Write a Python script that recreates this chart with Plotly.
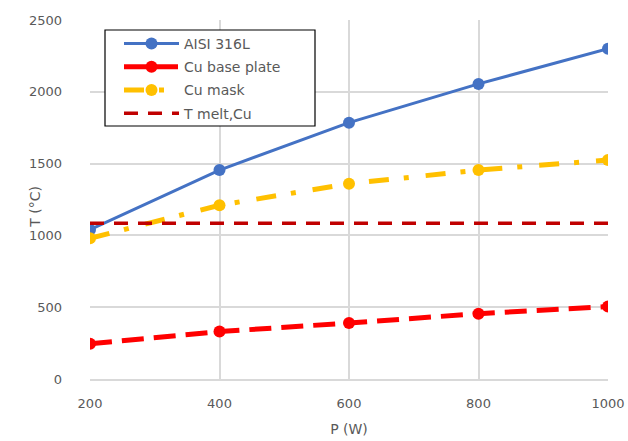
import plotly.graph_objects as go

power = [200, 400, 600, 800, 1000]
t_aisi = [1040, 1455, 1785, 2055, 2300]
t_base = [245, 330, 390, 455, 505]
t_mask = [980, 1210, 1360, 1455, 1525]
t_melt_cu = [1085, 1085, 1085, 1085, 1085]

font_family = "DejaVu Sans, Verdana, sans-serif"
gray = "#595959"

fig = go.Figure()
fig.add_trace(go.Scatter(
    x=power, y=t_aisi, name="AISI 316L", mode="lines+markers", legendgroup="a",
    line=dict(color="#4472C4", width=3),
    marker=dict(size=12, color="#4472C4"),
))
fig.add_trace(go.Scatter(
    x=power, y=t_base, name="Cu base plate", mode="lines+markers", legendgroup="b",
    line=dict(color="#FF0000", width=5, dash="22px,10px"),
    marker=dict(size=12, color="#FF0000"),
))
fig.add_trace(go.Scatter(
    x=power, y=t_mask, name="Cu mask", mode="lines+markers", legendgroup="c",
    line=dict(color="#FFC000", width=5, dash="20px,15px,5px,17px"),
    marker=dict(size=12, color="#FFC000"),
))
fig.add_trace(go.Scatter(
    x=power, y=t_melt_cu, name="T melt,Cu", mode="lines", legendgroup="d",
    line=dict(color="#C00000", width=3.5, dash="14px,10px"),
))

# legend frame
fig.add_shape(
    type="rect", xref="paper", yref="paper",
    x0=(105 - 90) / 518, x1=(315 - 90) / 518,
    y0=(379 - 126) / 359, y1=(379 - 30) / 359,
    line=dict(color="black", width=1.2), fillcolor="white", layer="above",
)

# y-axis title
fig.add_annotation(
    text="T (°C)", xref="paper", yref="paper",
    x=(35 - 90) / 518, y=0.48, xanchor="center", yanchor="middle",
    textangle=-90, showarrow=False, font=dict(size=14, color=gray),
)

fig.update_layout(
    width=628, height=441,
    margin=dict(l=90, r=20, t=20, b=62),
    paper_bgcolor="white", plot_bgcolor="white",
    font=dict(family=font_family, size=13, color=gray),
    showlegend=True,
    legend=dict(
        x=(119 - 90) / 518, y=(379 - 28) / 359, xanchor="left", yanchor="top",
        bgcolor="rgba(0,0,0,0)", borderwidth=0,
        font=dict(size=14, color=gray),
        tracegroupgap=2, itemwidth=55,
    ),
    xaxis=dict(
        range=[200, 1000], tickvals=power, showgrid=True,
        gridcolor="#D9D9D9", gridwidth=1.5,
        showline=True, linecolor="#D9D9D9", linewidth=1.5,
        zeroline=False, ticks="", automargin=False,
        ticklabelstandoff=12,
        title=dict(text="P (W)", font=dict(size=14, color=gray), standoff=14),
    ),
    yaxis=dict(
        range=[0, 2500], dtick=500, showgrid=True,
        gridcolor="#D9D9D9", gridwidth=1.5,
        zeroline=False, ticks="", automargin=False,
        ticklabelstandoff=27,
    ),
)

fig.write_html("out.html")
